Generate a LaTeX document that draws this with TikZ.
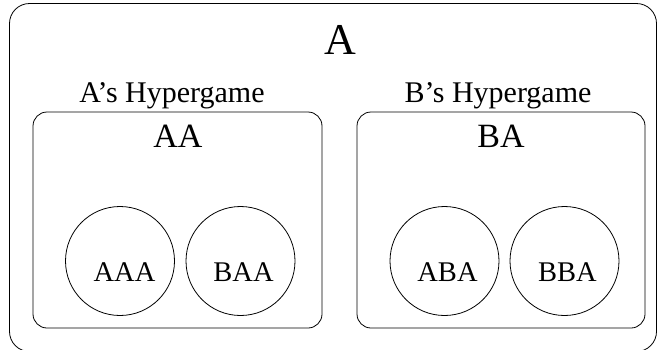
\documentclass[tikz,border=0pt]{standalone}
\usepackage{fontspec}
\setmainfont{Liberation Serif}
\usetikzlibrary{calc}
\begin{document}
\begin{tikzpicture}[x=1pt, y=-1pt, line width=0.8pt,
  gamebox/.style={draw, rounded corners=#1, inner sep=0pt},
  player/.style={draw, circle, minimum size=109pt, inner sep=0pt},
  title/.style={anchor=base, inner sep=0pt, font=\fontsize{44}{48}\selectfont},
  subtitle/.style={anchor=base, inner sep=0pt, font=\fontsize{34}{38}\selectfont},
  caption/.style={anchor=base, inner sep=0pt, font=\fontsize{30}{34}\selectfont},
  tag/.style={anchor=base, inner sep=0pt, font=\fontsize{28.5}{32}\selectfont}]
\path[use as bounding box] (0,0) rectangle (659,349);
\clip (0,0) rectangle (659,349);

% outer game frame
\node[gamebox=20pt, minimum width=647pt, minimum height=348pt] (a) at (333,177.5) {};
\node[title] (ta) at (340,54) {A};

% the two hypergames
\node[gamebox=14pt, minimum width=289pt, minimum height=216pt] (aa) at (177.5,220) {};
\node[gamebox=14pt, minimum width=288pt, minimum height=216pt] (ba) at (501,220) {};
\node[caption] (ha) at (172,102) {A’s Hypergame};
\node[caption] (hb) at (498,102) {B’s Hypergame};
\node[subtitle] (taa) at (178,147) {AA};
\node[subtitle] (tba) at (501,147) {BA};

% players' views
\node[player] (aaa) at (120,261) {};
\node[player] (baa) at (240.5,261) {};
\node[player] (aba) at (444.5,261) {};
\node[player] (bba) at (564.5,261) {};
\node[tag] at ($(aaa.center)+(4.5,20)$) {AAA};
\node[tag] at ($(baa.center)+(3,20)$) {BAA};
\node[tag] at ($(aba.center)+(3,20)$) {ABA};
\node[tag] at ($(bba.center)+(3,20)$) {BBA};
\end{tikzpicture}
\end{document}
